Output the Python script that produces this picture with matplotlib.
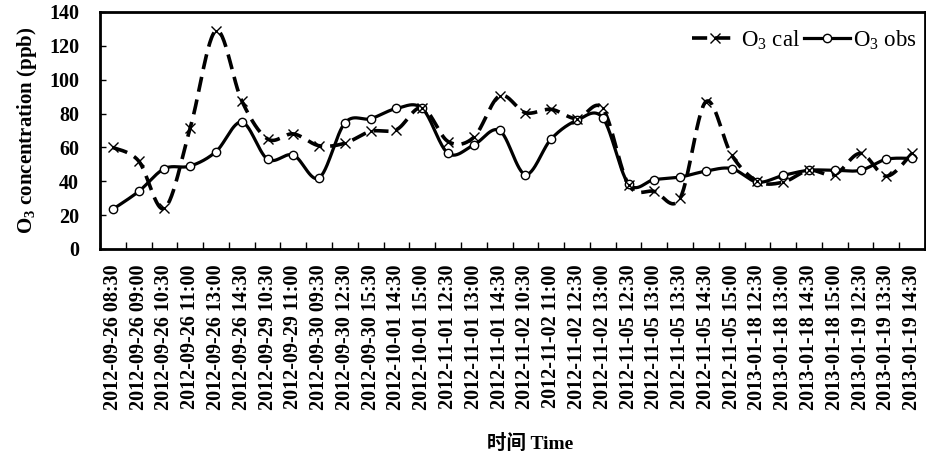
import numpy as np
import matplotlib
matplotlib.use("Agg")
import matplotlib.pyplot as plt
from matplotlib.lines import Line2D

plt.rcParams['font.family'] = ['Liberation Serif', 'Noto Sans CJK SC']
plt.rcParams['mathtext.fontset'] = 'custom'
plt.rcParams['mathtext.rm'] = 'Liberation Serif'
plt.rcParams['mathtext.bf'] = 'Liberation Serif:bold'
plt.rcParams['mathtext.it'] = 'Liberation Serif:italic'

categories = [
    "2012-09-26 08:30", "2012-09-26 09:00", "2012-09-26 10:30", "2012-09-26 11:00",
    "2012-09-26 13:00", "2012-09-26 14:30", "2012-09-29 10:30", "2012-09-29 11:00",
    "2012-09-30 09:30", "2012-09-30 12:30", "2012-09-30 15:30", "2012-10-01 14:30",
    "2012-10-01 15:00", "2012-11-01 12:30", "2012-11-01 13:00", "2012-11-01 14:30",
    "2012-11-02 10:30", "2012-11-02 11:00", "2012-11-02 12:30", "2012-11-02 13:00",
    "2012-11-05 12:30", "2012-11-05 13:00", "2012-11-05 13:30", "2012-11-05 14:30",
    "2012-11-05 15:00", "2013-01-18 12:30", "2013-01-18 13:00", "2013-01-18 14:30",
    "2013-01-18 15:00", "2013-01-19 12:30", "2013-01-19 13:30", "2013-01-19 14:30",
]
o3_cal = [60, 52, 24, 71.5, 129, 87.5, 65, 68, 61, 62.5, 69.5, 70.5, 83.5, 63.5, 66, 90.5,
          80.5, 82.5, 77, 83, 38, 34, 30, 87, 55.5, 40, 39.5, 46.5, 44, 56.5, 43, 56.5]
o3_obs = [23.5, 34, 47.5, 49, 57.5, 75, 53, 55.5, 42, 74.5, 77, 83, 83, 56.5, 61.5, 70,
          44, 65, 76, 77.5, 38.5, 41, 42.5, 46, 47.5, 39.5, 43.5, 46.5, 46.5, 46.5, 53, 53.5]
yticks = [0, 20, 40, 60, 80, 100, 120, 140]


def smooth(x, y, n=30):
    x = np.asarray(x, float)
    y = np.asarray(y, float)
    px = np.concatenate([[x[0]], x, [x[-1]]])
    py = np.concatenate([[y[0]], y, [y[-1]]])
    xs, ys = [], []
    t = np.linspace(0, 1, n)
    for i in range(1, len(px) - 2):
        p0 = np.array([px[i], py[i]])
        p3 = np.array([px[i + 1], py[i + 1]])
        c1 = p0 + (np.array([px[i + 1], py[i + 1]]) - np.array([px[i - 1], py[i - 1]])) / 6
        c2 = p3 - (np.array([px[i + 2], py[i + 2]]) - np.array([px[i], py[i]])) / 6
        b = ((1 - t) ** 3)[:, None] * p0 + (3 * (1 - t) ** 2 * t)[:, None] * c1 \
            + (3 * (1 - t) * t ** 2)[:, None] * c2 + (t ** 3)[:, None] * p3
        xs.extend(b[:, 0])
        ys.extend(b[:, 1])
    return np.array(xs), np.array(ys)


fig = plt.figure(figsize=(9.26, 4.59), dpi=100)
ax = fig.add_axes([100 / 926, 1 - 249 / 459, 825 / 926, (249 - 12) / 459])

x = np.arange(len(categories))
cal_dash = (0, (4.2, 2.2))

sx, sy = smooth(x, o3_obs)
ax.plot(sx, sy, color='black', lw=2.3, solid_capstyle='round', zorder=2)
sx, sy = smooth(x, o3_cal)
ax.plot(sx, sy, color='black', lw=2.6, linestyle=cal_dash, zorder=3)
ax.plot(x, o3_obs, linestyle='none', marker='o', ms=6, mfc='white', mec='black', mew=1.0, zorder=4)
ax.plot(x, o3_cal, linestyle='none', marker='x', ms=7.5, mec='black', mew=1.0, zorder=5)

ax.set_xlim(-0.5, len(categories) - 0.5)
ax.set_ylim(0, 140)
ax.set_yticks(yticks)
ax.set_yticklabels([str(v) for v in yticks], fontweight='bold', fontsize=14.5)
ax.set_xticks(x)
ax.set_xticklabels(categories, rotation=90, fontweight='bold', fontsize=14.5)
ax.set_xticks(np.arange(len(categories) + 1) - 0.5, minor=True)
ax.tick_params(axis='x', which='major', length=0, pad=11)
ax.tick_params(axis='x', which='minor', direction='in', length=5, width=1)
ax.tick_params(axis='y', direction='in', length=4, width=1, pad=15)
for s in ax.spines.values():
    s.set_linewidth(2)

ax.set_ylabel(r'O$_{\mathbf{3}}$ concentration (ppb)', fontweight='bold', fontsize=15, labelpad=7)
fig.text(530 / 926, 1 - 443 / 459, '时间 Time', fontweight='bold', fontsize=14,
         ha='center', va='center')

h_cal = Line2D([], [], color='black', lw=2.6, linestyle=cal_dash, marker='x', ms=7.5, mew=1.0)
h_obs = Line2D([], [], color='black', lw=2.3, marker='o', ms=6, mfc='white', mec='black', mew=1.0)
ax.legend([h_cal, h_obs], [r'O$_3$ cal', r'O$_3$ obs'], ncol=2, frameon=False,
          loc='center right', bbox_to_anchor=(917 / 926, 1 - 40 / 459),
          bbox_transform=fig.transFigure, fontsize=16.5, handlelength=2.0,
          handletextpad=0.15, columnspacing=0.15, borderpad=0, borderaxespad=0)

fig.savefig('out.png', dpi=100)
